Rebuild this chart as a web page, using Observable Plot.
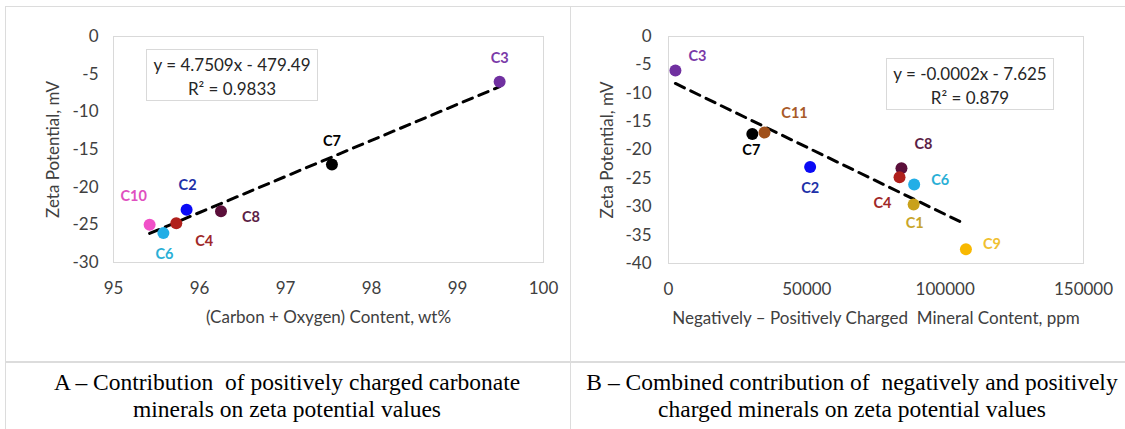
<!DOCTYPE html>
<html>
<head>
<meta charset="utf-8">
<script src="https://cdn.jsdelivr.net/npm/d3@7"></script>
<script src="https://cdn.jsdelivr.net/npm/@observablehq/plot@0.6"></script>
<style>
  body { margin: 0; background: #fff; }
  #page { position: relative; width: 1125px; height: 429px; overflow: hidden; }
  .panel { position: absolute; top: 0; }
  .rule { position: absolute; background: #dcdcdc; }
  .eq {
    position: absolute; background: #fff; border: 1px solid #d9d9d9; box-sizing: border-box;
    text-align: center; font-family: Lato, sans-serif; font-size: 17px; color: #262626;
    line-height: 24px; padding-top: 3px;
  }
  .cap {
    position: absolute; top: 369px; width: 560px; margin-left: -280px;
    font-family: "Liberation Serif", serif; font-size: 23.5px; line-height: 27px;
    text-align: center; white-space: pre; color: #000;
  }
</style>
</head>
<body>
<div id="page">
  <div class="rule" style="left:5px; top:6px; width:1120px; height:1px;"></div>
  <div class="rule" style="left:5px; top:6px; width:1px; height:423px;"></div>
  <div class="rule" style="left:570px; top:6px; width:1px; height:423px;"></div>
  <div class="rule" style="left:5px; top:361px; width:1120px; height:2px;"></div>
  <div id="panelA" class="panel" style="left:0px;"></div>
  <div id="panelB" class="panel" style="left:570px;"></div>
  <div id="eqA" class="eq" style="left:146px; top:49px; width:172px; height:52px;"></div>
  <div id="eqB" class="eq" style="left:886px; top:58px; width:168px; height:52px;"></div>
  <div id="capA" class="cap" style="left:287px;"></div>
  <div id="capB" class="cap" style="left:852px;"></div>
</div>
<script>
// Panel A: zeta potential vs (carbon + oxygen) content
const samplesA = ["C3", "C7", "C8", "C2", "C4", "C10", "C6"];
const contentA = [99.49, 97.54, 96.25, 95.85, 95.73, 95.42, 95.58];
const zetaA = [-6.0, -17.0, -23.2, -23.0, -24.8, -25.0, -26.1];
const xTicksA = [95, 96, 97, 98, 99, 100];
const yTicksA = [0, -5, -10, -15, -20, -25, -30];
const fitA = ["y = 4.7509x - 479.49", "R² = 0.9833"];

// Panel B: zeta potential vs net charged mineral content
const samplesB = ["C3", "C7", "C11", "C2", "C8", "C4", "C6", "C1", "C9"];
const chargeB = [2500, 30300, 34700, 51200, 84200, 83500, 88800, 88600, 107500];
const zetaB = [-6.0, -17.2, -16.9, -23.0, -23.2, -24.8, -26.1, -29.6, -37.5];
const xTicksB = [0, 50000, 100000, 150000];
const yTicksB = [0, -5, -10, -15, -20, -25, -30, -35, -40];
const fitB = ["y = -0.0002x - 7.625", "R² = 0.879"];

const captionA = ["A – Contribution  of positively charged carbonate", "minerals on zeta potential values"];
const captionB = ["B – Combined contribution of  negatively and positively", "charged minerals on zeta potential values"];

// Per-sample styling
const dotColor = {
  C1: "#c9a11b", C2: "#0a0af5", C3: "#7030a0", C4: "#b0201c", C6: "#22aee6",
  C7: "#000000", C8: "#5b0f3a", C9: "#f8b800", C10: "#f050c8", C11: "#a0501a"
};
const textColor = {
  C1: "#c8a52a", C2: "#2030a8", C3: "#7a3aa8", C4: "#a02828", C6: "#2aafd6",
  C7: "#000000", C8: "#5b1e46", C9: "#f0c030", C10: "#e050c0", C11: "#a85a28"
};
// Label placement relative to each dot, in pixels
const offsetA = {
  C3: [0, -23], C7: [0, -23], C2: [1, -24], C10: [-16, -28],
  C8: [30, 6], C4: [28, 18], C6: [1, 21]
};
const offsetB = {
  C3: [22, -14], C7: [-1, 16], C11: [30, -19], C2: [0, 21], C8: [22, -24],
  C4: [-17, 26], C6: [26, -4], C1: [1, 19], C9: [26, -5]
};

function scatter({samples, xs, ys, xDomain, yDomain, xTicks, yTicks, xLabel, yLabel,
                  width, height, margins, offsets, yLabelOffset, yTickPadding}) {
  const rows = samples.map((s, i) => ({sample: s, x: xs[i], y: ys[i]}));
  const labels = rows.map(r => Plot.text([r], {
    x: "x", y: "y", text: "sample", fill: textColor[r.sample],
    dx: offsets[r.sample][0], dy: offsets[r.sample][1],
    fontWeight: "bold", fontSize: 14.5
  }));
  return Plot.plot({
    width, height, ...margins,
    style: {fontFamily: "Lato, sans-serif", fontSize: "17px", color: "#404040", background: "transparent"},
    color: {type: "identity"},
    x: {domain: xDomain, ticks: xTicks, tickFormat: d => String(d), tickSize: 0, tickPadding: 19,
        label: xLabel, labelAnchor: "center", labelOffset: 60, labelArrow: "none"},
    y: {domain: yDomain, ticks: yTicks, tickFormat: d => String(d), tickSize: 0, tickPadding: yTickPadding,
        label: yLabel, labelAnchor: "center", labelOffset: yLabelOffset, labelArrow: "none"},
    marks: [
      Plot.frame({stroke: "#d9d9d9"}),
      Plot.linearRegressionY(rows, {x: "x", y: "y", ci: 0, stroke: "#000", strokeWidth: 3, strokeDasharray: "10,7"}),
      Plot.dot(rows, {x: "x", y: "y", r: 6, fill: d => dotColor[d.sample], stroke: "none"}),
      ...labels
    ]
  });
}

document.getElementById("panelA").append(scatter({
  samples: samplesA, xs: contentA, ys: zetaA,
  xDomain: [95, 100], yDomain: [-30, 0], xTicks: xTicksA, yTicks: yTicksA,
  xLabel: "(Carbon + Oxygen) Content, wt%", yLabel: "Zeta Potential, mV",
  width: 570, height: 362,
  margins: {marginLeft: 113, marginRight: 27, marginTop: 36, marginBottom: 100},
  offsets: offsetA, yLabelOffset: 67, yTickPadding: 15
}));

document.getElementById("panelB").append(scatter({
  samples: samplesB, xs: chargeB, ys: zetaB,
  xDomain: [0, 150000], yDomain: [-40, 0], xTicks: xTicksB, yTicks: yTicksB,
  xLabel: "Negatively – Positively Charged  Mineral Content, ppm", yLabel: "Zeta Potential, mV",
  width: 555, height: 362,
  margins: {marginLeft: 98, marginRight: 42, marginTop: 36, marginBottom: 99},
  offsets: offsetB, yLabelOffset: 68, yTickPadding: 17
}));

function fill(id, lines) {
  const el = document.getElementById(id);
  lines.forEach((t, i) => {
    if (i) el.append(document.createElement("br"));
    el.append(document.createTextNode(t));
  });
}
fill("eqA", fitA);
fill("eqB", fitB);
fill("capA", captionA);
fill("capB", captionB);
</script>
</body>
</html>
